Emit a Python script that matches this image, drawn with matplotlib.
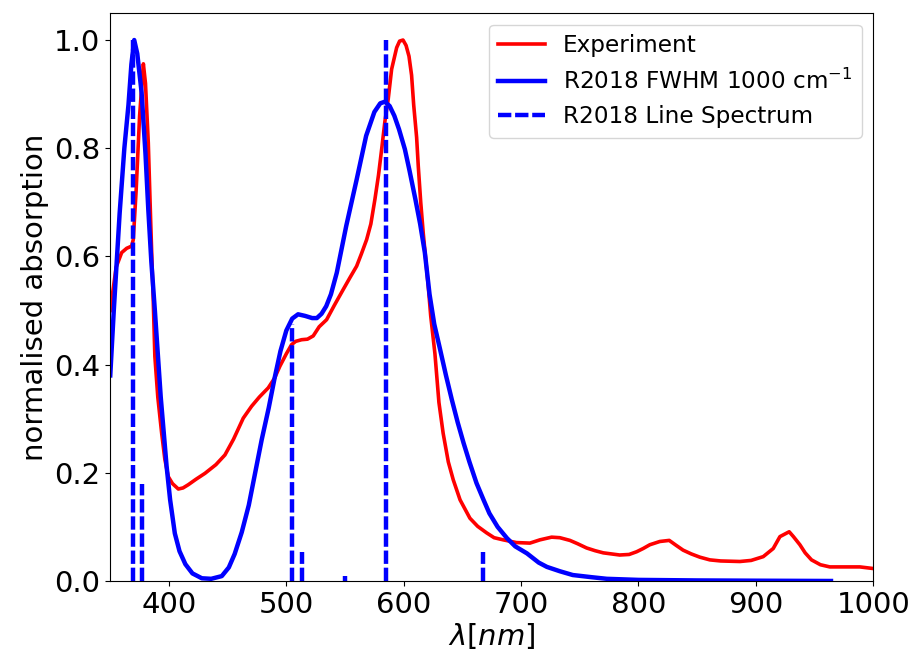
# -*- coding: utf-8 -*-
"""
Absorption spectrum: experiment vs R2018 calculation.

Draws the normalised experimental spectrum, the broadened
theoretical spectrum and its line (stick) spectrum.
"""

import matplotlib
matplotlib.use("Agg")
import matplotlib.pyplot as plt

# experimental spectrum (wavelength in nm, normalised absorption)
exp_wavelength = [
    350, 355, 359.7, 364, 368.2, 369.6, 372, 375, 378.2, 380, 382.4, 384.5,
    386.6, 388, 390.5, 393.8, 396.5, 399.4, 403, 408, 412, 416.5, 423, 430.7,
    440, 447.7, 455, 463.3, 470.4, 477, 484.6, 490, 494.5, 500, 504.5, 508,
    513, 518, 522.9, 528, 534.3, 541, 548.5, 554, 559.9, 564, 568.4, 572,
    575.5, 578.5, 581.2, 584, 586.8, 589.7, 594, 596.5, 599.4, 602, 604.5,
    606.7, 608.5, 611, 612.4, 614.5, 616.6, 620.9, 623, 626.6, 630, 633.6,
    638, 642.2, 648, 656.4, 663, 670.6, 677, 684.8, 696, 707.5, 716, 726,
    733, 741.6, 748, 755.8, 763, 770, 784, 792, 798.4, 804, 809.7, 818.2,
    826.2, 832, 838, 845, 852.3, 860.8, 870, 886.4, 896, 906.3, 914.8, 920.5,
    928.4, 932, 937.5, 942, 947.4, 955, 963, 975, 988.6, 1000,
]
exp_absorption = [
    0.50, 0.58, 0.607, 0.615, 0.619, 0.631, 0.72, 0.86, 0.956, 0.92, 0.81,
    0.66, 0.52, 0.415, 0.34, 0.273, 0.225, 0.193, 0.18, 0.170, 0.172, 0.178,
    0.188, 0.199, 0.215, 0.233, 0.262, 0.301, 0.323, 0.34, 0.357, 0.375,
    0.397, 0.42, 0.437, 0.443, 0.446, 0.447, 0.453, 0.47, 0.483, 0.51, 0.539,
    0.56, 0.582, 0.605, 0.631, 0.66, 0.706, 0.75, 0.798, 0.85, 0.891, 0.946,
    0.986, 0.998, 1.0, 0.99, 0.97, 0.935, 0.88, 0.82, 0.767, 0.70, 0.644,
    0.545, 0.49, 0.42, 0.33, 0.273, 0.22, 0.187, 0.15, 0.116, 0.101, 0.089,
    0.08, 0.076, 0.071, 0.070, 0.076, 0.081, 0.08, 0.075, 0.069, 0.061,
    0.056, 0.052, 0.048, 0.049, 0.054, 0.06, 0.067, 0.073, 0.075, 0.066,
    0.057, 0.05, 0.044, 0.039, 0.037, 0.036, 0.038, 0.045, 0.060, 0.082,
    0.091, 0.082, 0.067, 0.052, 0.039, 0.03, 0.026, 0.026, 0.026, 0.023,
]

# R2018 broadened spectrum (FWHM 1000 cm^-1)
calc_wavelength = [
    350, 353, 358, 362, 365.5, 368, 370.4, 373, 376.7, 380, 382.4, 385, 388,
    393, 398, 401, 405, 409, 414, 420, 428, 436, 445, 451, 456, 462, 468,
    473, 479, 485, 490, 495, 500, 505, 510, 516, 522, 526, 530, 534, 538,
    543, 551, 560, 568, 575, 580, 584, 588, 592, 596, 601, 605, 610, 614,
    618, 622, 626, 631, 636, 641, 646, 651, 656, 662, 668, 673, 680, 688,
    695, 705, 715, 722, 733, 744, 760, 773, 800, 850, 900, 964,
]
calc_absorption = [
    0.38, 0.50, 0.68, 0.80, 0.88, 0.955, 1.0, 0.975, 0.903, 0.79, 0.687,
    0.59, 0.50, 0.34, 0.212, 0.15, 0.088, 0.055, 0.031, 0.014, 0.005, 0.004,
    0.009, 0.025, 0.05, 0.09, 0.14, 0.195, 0.261, 0.32, 0.375, 0.425, 0.463,
    0.485, 0.493, 0.49, 0.486, 0.486, 0.494, 0.508, 0.53, 0.57, 0.656, 0.743,
    0.823, 0.867, 0.883, 0.886, 0.878, 0.86, 0.835, 0.798, 0.758, 0.705,
    0.66, 0.607, 0.53, 0.475, 0.428, 0.38, 0.335, 0.293, 0.255, 0.22, 0.181,
    0.15, 0.125, 0.10, 0.079, 0.064, 0.051, 0.034, 0.026, 0.018, 0.011,
    0.007, 0.004, 0.002, 0.001, 0.0005, 0.0,
]

# R2018 line spectrum
stick_wavelength = [369.6, 376.7, 504.5, 513.6, 549.8, 584.6, 667.7]
stick_height = [1.0, 0.18, 0.475, 0.053, 0.009, 1.0, 0.053]


def plot_spectrum(file_name):
    """
    Строит график спектров поглощения и сохраняет его в PNG.

    Parameters
    ----------
    file_name : str
        имя выходного файла.
    """
    fig = plt.figure(figsize=(9.12, 6.59), dpi=100)
    ax = fig.add_axes([0.1209, 0.1184, 0.8366, 0.8619])

    ax.plot(exp_wavelength, exp_absorption, color='red', lw=2.6,
            label='Experiment')
    ax.plot(calc_wavelength, calc_absorption, color='blue', lw=3.2,
            label='R2018 FWHM 1000 cm$^{-1}$')
    ax.vlines(stick_wavelength, 0, stick_height, colors='blue', lw=3.2,
              linestyles=(0, (3.0, 0.85)), label='R2018 Line Spectrum')

    ax.set_xlim(350, 1000)
    ax.set_ylim(0, 1.05)
    ax.set_xticks([400, 500, 600, 700, 800, 900, 1000])
    ax.set_yticks([0.0, 0.2, 0.4, 0.6, 0.8, 1.0])
    ax.tick_params(labelsize=21)
    ax.set_xlabel(r'$\lambda [nm]$', fontsize=21, labelpad=2)
    ax.set_ylabel('normalised absorption', fontsize=21)
    ax.legend(loc='upper right', fontsize=16.7)

    fig.savefig(file_name, dpi=100)
    plt.close(fig)


def main():
    """
    Основная функция для выполнения скрипта.
    """
    plot_spectrum('out.png')


if __name__ == "__main__":
    main()
